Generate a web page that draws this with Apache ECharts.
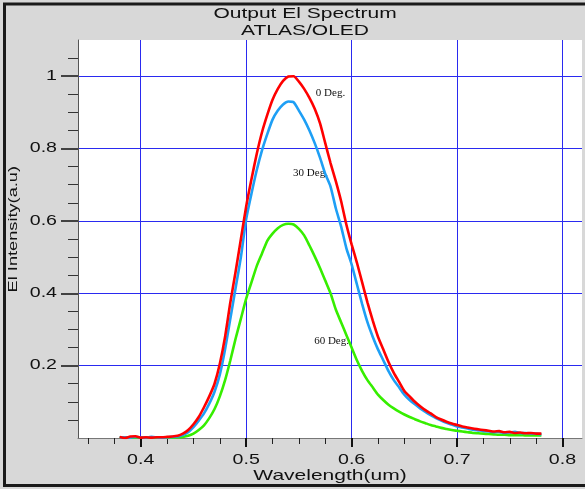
<!DOCTYPE html>
<html>
<head>
<meta charset="utf-8">
<script src="https://cdn.jsdelivr.net/npm/echarts@6/dist/echarts.min.js"></script>
<style>
html,body{margin:0;padding:0;background:#d8d8d8;}
#chart{width:585px;height:489px;}
</style>
</head>
<body>
<div id="chart"></div>
<script>
var wavelength = [0.38,0.385,0.39,0.395,0.40,0.405,0.41,0.415,0.42,0.425,0.43,0.435,0.44,0.445,0.45,0.455,0.46,0.465,0.47,0.475,0.48,0.485,0.49,0.495,0.50,0.505,0.51,0.515,0.52,0.525,0.53,0.535,0.54,0.545,0.55,0.555,0.56,0.565,0.57,0.575,0.58,0.585,0.59,0.595,0.60,0.605,0.61,0.615,0.62,0.625,0.63,0.635,0.64,0.645,0.65,0.655,0.66,0.665,0.67,0.675,0.68,0.685,0.69,0.695,0.70,0.705,0.71,0.715,0.72,0.725,0.73,0.735,0.74,0.745,0.75,0.755,0.76,0.765,0.77,0.775,0.78];

var deg0 = [0.003,0,0.004,0.005,0.001,0.002,0.001,0.002,0.002,0.003,0.004,0.006,0.012,0.022,0.038,0.058,0.085,0.115,0.15,0.205,0.28,0.375,0.46,0.55,0.64,0.715,0.785,0.845,0.893,0.935,0.965,0.987,0.999,1.0,0.985,0.965,0.94,0.91,0.87,0.815,0.76,0.71,0.655,0.59,0.535,0.485,0.43,0.375,0.325,0.28,0.245,0.21,0.18,0.155,0.13,0.115,0.1,0.088,0.077,0.068,0.058,0.051,0.045,0.04,0.036,0.032,0.029,0.026,0.024,0.022,0.02,0.018,0.019,0.016,0.017,0.014,0.015,0.013,0.014,0.012,0.012];

var deg30 = [0.001,0.002,0.001,0.003,0.002,0.001,0.003,0.002,0.001,0.002,0.003,0.004,0.008,0.016,0.03,0.048,0.068,0.095,0.128,0.175,0.245,0.33,0.415,0.5,0.605,0.675,0.74,0.795,0.84,0.88,0.905,0.922,0.93,0.928,0.905,0.88,0.85,0.815,0.775,0.73,0.695,0.635,0.585,0.525,0.48,0.425,0.37,0.32,0.28,0.245,0.215,0.185,0.16,0.14,0.12,0.105,0.093,0.082,0.072,0.063,0.055,0.048,0.042,0.037,0.032,0.029,0.026,0.023,0.021,0.019,0.018,0.016,0.017,0.014,0.015,0.017,0.013,0.014,0.012,0.012,0.01];

var deg60 = [0.001,0.001,0.001,0.001,0.001,0.001,0.001,0.001,0.001,0.001,0.001,0.002,0.003,0.006,0.012,0.022,0.035,0.055,0.08,0.115,0.16,0.215,0.275,0.33,0.385,0.43,0.475,0.51,0.545,0.565,0.58,0.589,0.592,0.59,0.578,0.56,0.532,0.502,0.47,0.435,0.4,0.355,0.32,0.285,0.25,0.215,0.185,0.16,0.14,0.12,0.105,0.092,0.082,0.073,0.065,0.058,0.052,0.046,0.041,0.036,0.032,0.028,0.025,0.022,0.02,0.018,0.016,0.014,0.013,0.012,0.011,0.01,0.009,0.009,0.008,0.008,0.008,0.007,0.007,0.007,0.007];

var xMajorTicks = [0.4,0.5,0.6,0.7,0.8];
var xMinorTicks = [0.35,0.375,0.425,0.45,0.475,0.525,0.55,0.575,0.625,0.65,0.675,0.725,0.75,0.775];
var yMajorTicks = [0.2,0.4,0.6,0.8,1.0];
var yMinorTicks = [0.05,0.1,0.15,0.25,0.3,0.35,0.45,0.5,0.55,0.65,0.7,0.75,0.85,0.9,0.95,1.05];

var seriesNames = ['0 Deg.','30 Deg.','60 Deg.'];
var seriesColors = ['#ff0000','#1e9ff5','#36ee00'];
var labelPositions = [[0.580,0.953],[0.561,0.733],[0.581,0.268]];

function pairs(ys){ return wavelength.map(function(x,i){ return [x, ys[i]]; }); }
var allData = [deg0, deg30, deg60];

var TEXT_STRETCH = 1.4;
var chart = echarts.init(document.getElementById('chart'), null, {renderer:'canvas'});
var fontSans = '"Liberation Sans", Arial, sans-serif';
var xMin = 0.3405, xMax = 0.8185, yMin = 0, yMax = 1.1;

var option = {
  backgroundColor: '#d8d8d8',
  animation: false,
  title: {
    text: 'Output El Spectrum\nATLAS/OLED',
    left: 300, top: 0, textAlign: 'center',
    textStyle: {fontFamily: fontSans, fontSize: 15, fontWeight: 'normal', color: '#111', lineHeight: 17}
  },
  grid: {left: 78, right: 3, top: 40, bottom: 51, show: true, backgroundColor: '#ffffff', borderWidth: 0,
         containLabel: false, outerBoundsMode: 'none'},
  xAxis: [{
    type: 'value', min: xMin, max: xMax, position: 'bottom',
    name: 'Wavelength(um)', nameLocation: 'middle', nameGap: 30, nameMoveOverlap: false,
    nameTextStyle: {fontFamily: fontSans, fontSize: 15, color: '#111'},
    axisLine: {show: true, onZero: false, lineStyle: {color: '#777', width: 1}},
    axisTick: {show: true, customValues: xMajorTicks, length: 9, lineStyle: {color: '#111', width: 2}},
    axisLabel: {customValues: xMajorTicks, margin: 15, fontFamily: fontSans, fontSize: 14, color: '#111',
      formatter: function(v){ return String(Math.round(v*10)/10); }},
    splitLine: {show: true, lineStyle: {color: '#2a2af0', width: 1}}
  },{
    type: 'value', min: xMin, max: xMax, position: 'bottom',
    axisLine: {show: false},
    axisTick: {show: true, customValues: xMinorTicks, length: 6, lineStyle: {color: '#222', width: 1}},
    axisLabel: {show: false},
    splitLine: {show: false}
  }],
  yAxis: [{
    type: 'value', min: yMin, max: yMax, position: 'left',
    name: 'El Intensity(a.u)', nameLocation: 'middle', nameGap: 58, nameMoveOverlap: false,
    nameTextStyle: {fontFamily: fontSans, fontSize: 13, color: '#111', padding: [0,0,0,14]},
    axisLine: {show: true, onZero: false, lineStyle: {color: '#555', width: 1}},
    axisTick: {show: true, customValues: yMajorTicks, length: 17, lineStyle: {color: '#111', width: 1.5}},
    axisLabel: {customValues: yMajorTicks, margin: 21, fontFamily: fontSans, fontSize: 14, color: '#111',
      formatter: function(v){ return String(Math.round(v*10)/10); }},
    splitLine: {show: true, lineStyle: {color: '#2a2af0', width: 1}}
  },{
    type: 'value', min: yMin, max: yMax, position: 'left',
    axisLine: {show: false},
    axisTick: {show: true, customValues: yMinorTicks, length: 10, lineStyle: {color: '#333', width: 1}},
    axisLabel: {show: false},
    splitLine: {show: false}
  }],
  series: allData.map(function(d, i){
    return {
      name: seriesNames[i], type: 'line', data: pairs(d),
      xAxisIndex: 0, yAxisIndex: 0,
      showSymbol: false, smooth: 0.2, z: 10 - i,
      lineStyle: {color: seriesColors[i], width: 2.6},
      markPoint: {
        symbol: 'circle', symbolSize: 0, silent: true,
        data: [{coord: labelPositions[i], value: seriesNames[i]}],
        label: {show: true, position: 'inside', formatter: seriesNames[i],
          fontFamily: '"Liberation Serif", "Times New Roman", serif', fontSize: 11, color: '#111'}
      }
    };
  }),
  graphic: [{
    type: 'rect', z: 100, silent: true,
    shape: {x: 4.5, y: 4, width: 600, height: 481.5},
    style: {fill: 'none', stroke: '#1a1a1a', lineWidth: 3}
  }]
};
chart.setOption(option);

// The reference uses a wide, horizontally stretched sans face; widen the sans texts along their reading direction.
function widen(el){
  if (el.type === 'text' && el.style && typeof el.style.text === 'string' && el.style.text.indexOf('Deg') < 0) {
    el.scaleX = TEXT_STRETCH;
    el.markRedraw();
  }
}
var zr = chart.getZr();
zr.storage.getRoots().forEach(function(root){
  widen(root);
  if (root.traverse) root.traverse(widen);
});
zr.refreshImmediately();
</script>
</body>
</html>
